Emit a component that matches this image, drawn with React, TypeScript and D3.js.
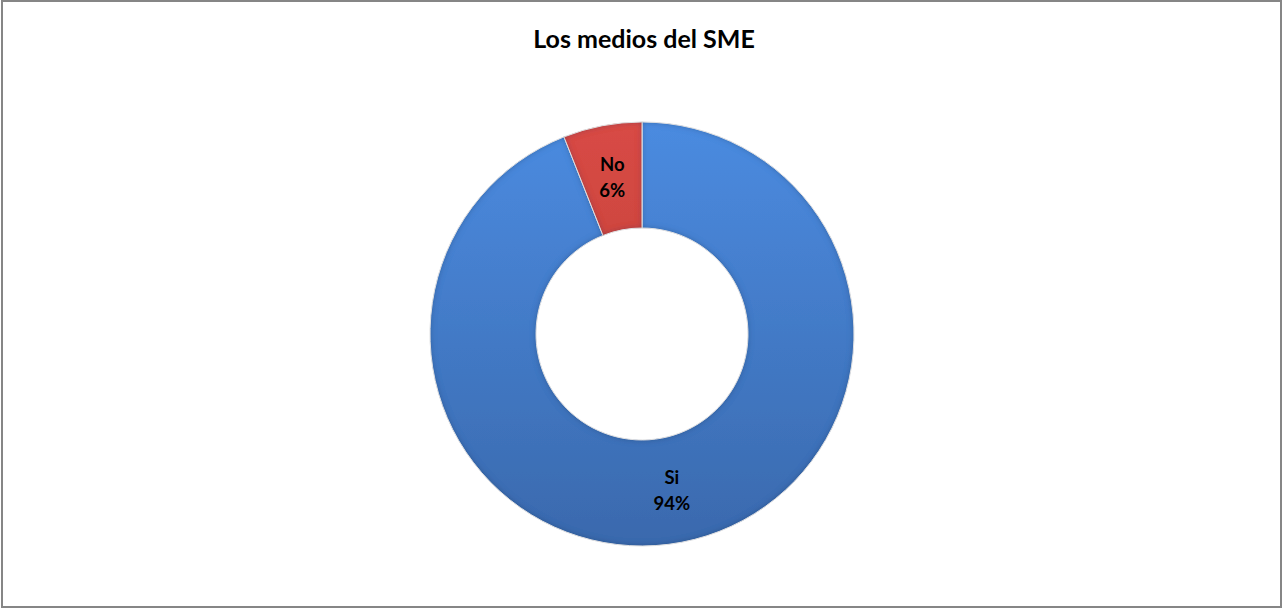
import * as d3 from "d3";
import React, {useEffect, useRef} from "react";

const categories = ["Si", "No"];
const values = [94, 6];
const labels = ["94%", "6%"];
const title = "Los medios del SME";

const W = 1283;
const H = 610;

const App = () => {
    const ref = useRef<SVGSVGElement>(null);

    useEffect(() => {
        document.body.style.margin = "0";
        const svg = d3.select(ref.current);
        svg.selectAll("*").remove();

        const cx = 642;
        const cy = 334;
        const outer = 212;
        const inner = 106;

        const defs = svg.append("defs");
        // vertical shading, coordinates relative to the pie group
        const grad = (id, top, bottom) => {
            const g = defs.append("linearGradient")
                .attr("id", id)
                .attr("gradientUnits", "userSpaceOnUse")
                .attr("x1", 0).attr("y1", -outer)
                .attr("x2", 0).attr("y2", outer);
            g.append("stop").attr("offset", "0%").attr("stop-color", top);
            g.append("stop").attr("offset", "100%").attr("stop-color", bottom);
        };
        grad("g-si", "#4b8be0", "#3a69ad");
        grad("g-no", "#d84b45", "#b53934");

        // soft dark rim, like the office bevel
        const bevel = defs.append("filter").attr("id", "bevel")
            .attr("x", "-5%").attr("y", "-5%").attr("width", "110%").attr("height", "110%");
        bevel.append("feGaussianBlur").attr("in", "SourceAlpha").attr("stdDeviation", 3).attr("result", "blur");
        bevel.append("feComposite").attr("in", "SourceAlpha").attr("in2", "blur").attr("operator", "out").attr("result", "edge");
        bevel.append("feFlood").attr("flood-color", "#14284a").attr("flood-opacity", 0.6).attr("result", "col");
        bevel.append("feComposite").attr("in", "col").attr("in2", "edge").attr("operator", "in").attr("result", "shade");
        const merge = bevel.append("feMerge");
        merge.append("feMergeNode").attr("in", "SourceGraphic");
        merge.append("feMergeNode").attr("in", "shade");

        svg.append("rect")
            .attr("x", 2).attr("y", 1)
            .attr("width", W - 4).attr("height", H - 4)
            .attr("fill", "#fff")
            .attr("stroke", "#868686")
            .attr("stroke-width", 2);

        svg.append("text")
            .attr("x", 644).attr("y", 48)
            .attr("text-anchor", "middle")
            .attr("font-family", "Lato, 'Open Sans', sans-serif")
            .attr("font-weight", "bold")
            .attr("font-size", 25)
            .attr("fill", "#000")
            .text(title);

        const pie = d3.pie<number>().sort(null).value(d => d);
        const arcs = pie(values);
        const arc = d3.arc<d3.PieArcDatum<number>>().innerRadius(inner).outerRadius(outer);
        const fills = ["url(#g-si)", "url(#g-no)"];

        const g = svg.append("g").attr("transform", `translate(${cx},${cy})`);
        g.selectAll("path")
            .data(arcs)
            .join("path")
            .attr("d", arc)
            .attr("fill", (d, i) => fills[i])
            .attr("stroke", "#ffffff")
            .attr("stroke-width", 1)
            .attr("filter", "url(#bevel)");

        const lbl = g.selectAll("text.lbl")
            .data(arcs)
            .join("text")
            .attr("class", "lbl")
            .attr("text-anchor", "middle")
            .attr("font-family", "Lato, 'Open Sans', sans-serif")
            .attr("font-weight", "bold")
            .attr("font-size", 18.5)
            .attr("fill", "#000")
            .attr("transform", d => {
                const [x, y] = arc.centroid(d);
                return `translate(${x},${y})`;
            });
        lbl.append("tspan").attr("x", 0).attr("dy", "-0.35em").text((d, i) => categories[i]);
        lbl.append("tspan").attr("x", 0).attr("dy", "1.4em").text((d, i) => labels[i]);
    }, []);

    return (
        <svg ref={ref} width={W} height={H} style={{display: "block"}}/>
    );
};

export default App;
